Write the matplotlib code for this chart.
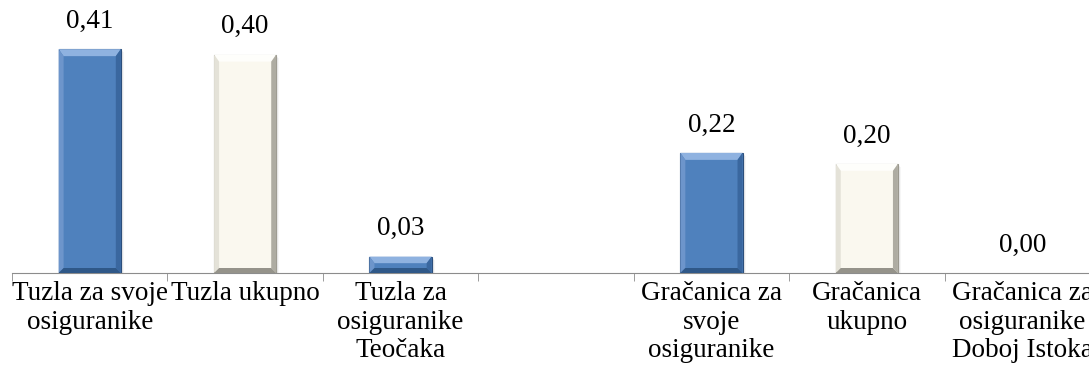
import numpy as np
import matplotlib.pyplot as plt
from matplotlib.patches import Polygon

plt.rcParams['font.family'] = ['Liberation Serif', 'DejaVu Serif']

categories = [
    'Tuzla za svoje\nosiguranike',
    'Tuzla ukupno',
    'Tuzla za\nosiguranike\nTeočaka',
    '',
    'Gračanica za\nsvoje\nosiguranike',
    'Gračanica\nukupno',
    'Gračanica za\nosiguranike\nDoboj Istoka',
]
values = [0.41, 0.40, 0.03, np.nan, 0.22, 0.20, 0.00]
labels = ['0,41', '0,40', '0,03', '', '0,22', '0,20', '0,00']
kinds = ['blue', 'cream', 'blue', None, 'blue', 'cream', 'blue']

STYLE = {
    'blue': dict(face='#4f81bd', top='#8fb2e0', left='#6d95cb',
                 right='#3a679f', bottom='#2f5888', edge='#2c4f7c'),
    'cream': dict(face='#faf8ef', top='#fefefb', left='#e4e2d8',
                  right='#aeaca2', bottom='#95938a', edge='#9a988e'),
}

fig = plt.figure(figsize=(10.89, 3.81), dpi=100)
# axes runs a little past the right edge so the last label is cut off
ax = fig.add_axes([12 / 1089, 108 / 381, 1088 / 1089, 273 / 381])
ax.set_xlim(-0.5, len(categories) - 0.5)
ax.set_ylim(0, 0.5)

x = np.arange(len(categories))
width = 0.40
bars = ax.bar(x, np.nan_to_num(values), width, color='none', linewidth=0, zorder=2)

fig.canvas.draw()
to_disp = ax.transData.transform
to_data = ax.transData.inverted().transform


def bevel(rect, st, bt=7, bs=5):
    x0, y0 = rect.get_x(), rect.get_y()
    x1, y1 = x0 + rect.get_width(), y0 + rect.get_height()
    (px0, py0), (px1, py1) = to_disp([(x0, y0), (x1, y1)])
    h = py1 - py0
    if h < 1:
        return
    bt = min(bt, h / 2.5)
    bs = min(bs, h / 2.5)
    # soft shadow
    for k, a in ((3, 0.07), (2, 0.11), (1, 0.16)):
        sh = to_data([(px0 + k, py0 - k), (px1 + k, py1 - k)])
        ax.add_patch(plt.Rectangle(sh[0], sh[1][0] - sh[0][0], sh[1][1] - sh[0][1],
                                   color='#808080', alpha=a, lw=0, zorder=1))
    outer = [(px0, py0), (px1, py0), (px1, py1), (px0, py1)]
    inner = [(px0 + bs, py0 + bs), (px1 - bs, py0 + bs),
             (px1 - bs, py1 - bt), (px0 + bs, py1 - bt)]
    ax.add_patch(Polygon(to_data(outer), closed=True, fc=st['face'], ec=st['edge'],
                         lw=0.8, zorder=2))
    sides = [
        ([outer[3], outer[2], inner[2], inner[3]], st['top']),
        ([outer[0], outer[3], inner[3], inner[0]], st['left']),
        ([outer[1], outer[2], inner[2], inner[1]], st['right']),
        ([outer[0], outer[1], inner[1], inner[0]], st['bottom']),
    ]
    for pts, c in sides:
        ax.add_patch(Polygon(to_data(pts), closed=True, fc=c, ec='none', zorder=3))


for rect, kind in zip(bars, kinds):
    if kind is not None:
        bevel(rect, STYLE[kind])

for xi, v, lab in zip(x, values, labels):
    if lab:
        ax.annotate(lab, xy=(xi, v), xytext=(0, 11), textcoords='offset points',
                    ha='center', va='bottom', fontsize=19.5)

for s in ('top', 'right', 'left'):
    ax.spines[s].set_visible(False)
ax.spines['bottom'].set_color('#8c8c8c')
ax.set_yticks([])
ax.set_xticks(np.arange(-0.5, len(categories)), minor=True)
ax.set_xticks(x)
ax.set_xticklabels(categories, fontsize=19.5, linespacing=1.17)
ax.tick_params(axis='x', which='major', length=0, pad=6)
ax.tick_params(axis='x', which='minor', length=6, color='#8c8c8c')

fig.savefig('out.png', dpi=100)
